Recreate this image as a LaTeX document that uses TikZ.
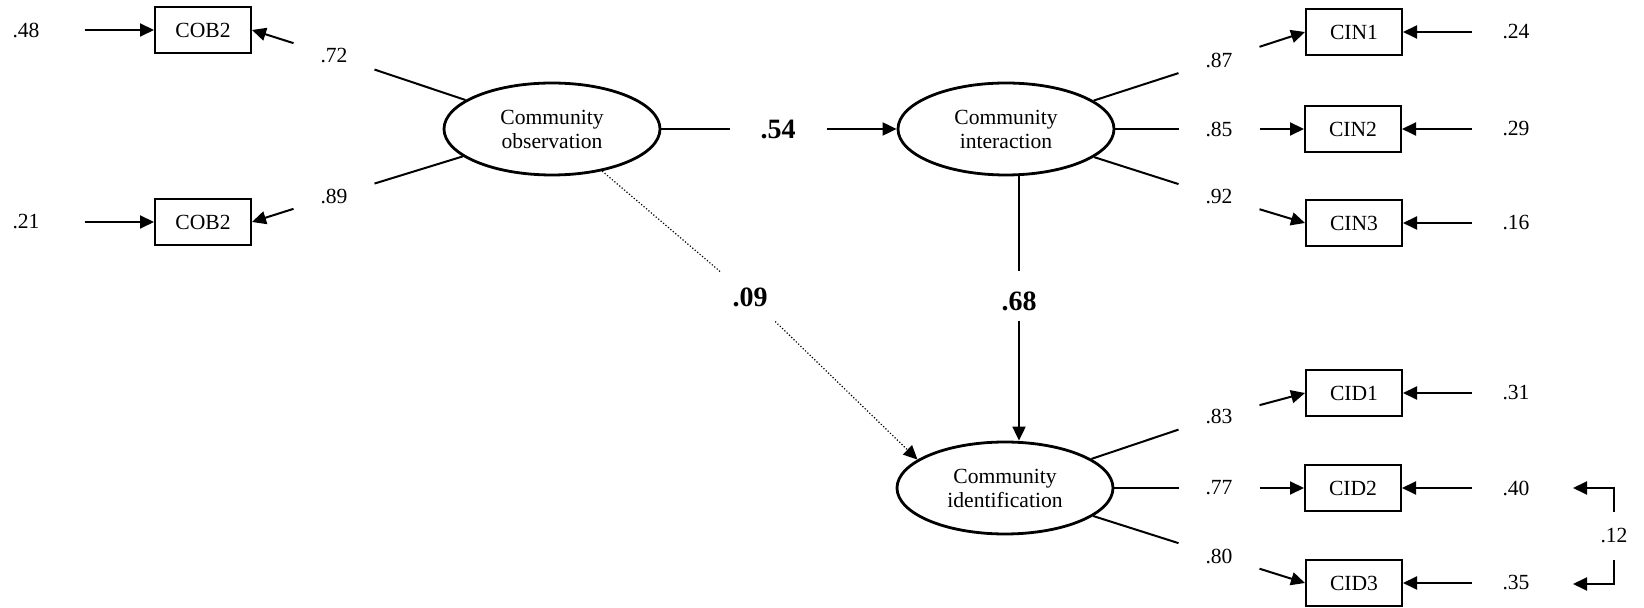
\documentclass[tikz,border=0pt]{standalone}
\usepackage{fontspec}
\setmainfont{Liberation Serif}
\usetikzlibrary{arrows.meta,shapes.geometric}

\begin{document}
\begin{tikzpicture}[
    x=0.5pt, y=-0.5pt, line width=1pt,
    >={Triangle[length=7pt,width=6.5pt]},
    every node/.style={font=\fontsize{10.8}{12}\selectfont, align=center},
    latent/.style={draw, ellipse, line width=1.4pt, minimum width=108pt, minimum height=46pt, inner sep=0pt},
    item/.style={draw, minimum width=48pt, minimum height=23pt, inner sep=0pt},
    load/.style={inner xsep=13pt, inner ysep=3pt},
    coef/.style={font=\fontsize{14}{16}\selectfont\bfseries, inner xsep=15pt, inner ysep=7pt},
    resid/.style={inner xsep=15pt, inner ysep=3pt}
]
\useasboundingbox (0,0) rectangle (1644,608);

% latent variables
\node[latent] (CO)  at (552,129)  {Community\\observation};
\node[latent] (CI)  at (1006,129) {Community\\interaction};
\node[latent] (CID) at (1005,488) {Community\\identification};

% indicators
\node[item] (COB2a) at (203,30)   {COB2};
\node[item] (COB2b) at (203,222)  {COB2};
\node[item] (CIN1)  at (1354,32)  {CIN1};
\node[item] (CIN2)  at (1353,129) {CIN2};
\node[item] (CIN3)  at (1354,223) {CIN3};
\node[item] (CID1)  at (1354,393) {CID1};
\node[item] (CID2)  at (1353,488) {CID2};
\node[item] (CID3)  at (1354,583) {CID3};

% loadings
\node[load] (l72) at (334,56)   {.72};
\node[load] (l89) at (334,196)  {.89};
\node[load] (l87) at (1219,60)  {.87};
\node[load] (l85) at (1219,129) {.85};
\node[load] (l92) at (1219,197) {.92};
\node[load] (l83) at (1219,416) {.83};
\node[load] (l77) at (1219,488) {.77};
\node[load] (l80) at (1219,556) {.80};

% structural paths
\node[coef] (l54) at (778,129)  {.54};
\node[coef, text height=15pt, inner ysep=4.2pt] (l68) at (1019,296) {.68};
\node[coef] (l09) at (750,297)  {.09};

% residuals
\node[resid, inner xsep=22pt] (e48) at (26,30)  {.48};
\node[resid, inner xsep=22pt] (e21) at (26,222) {.21};
\node[resid] (e24) at (1516,32)  {.24};
\node[resid] (e29) at (1516,129) {.29};
\node[resid] (e16) at (1516,223) {.16};
\node[resid] (e31) at (1516,393) {.31};
\node[resid] (e40) at (1516,488) {.40};
\node[resid] (e35) at (1516,583) {.35};
\node[inner ysep=8pt] (l12) at (1614,536) {.12};
\coordinate (c40) at (1573,488);
\coordinate (c35) at (1573,584);

\draw (CO) -- (l72); \draw[->] (l72) -- (COB2a.east);
\draw (CO) -- (l89); \draw[->] (l89) -- (COB2b.east);
\draw[->] (e48) -- (COB2a);
\draw[->] (e21) -- (COB2b);

\draw (CI) -- (l87); \draw[->] (l87) -- (CIN1.west);
\draw (CI) -- (l85); \draw[->] (l85) -- (CIN2.west);
\draw (CI) -- (l92); \draw[->] (l92) -- (CIN3.west);
\draw[->] (e24) -- (CIN1);
\draw[->] (e29) -- (CIN2);
\draw[->] (e16) -- (CIN3);

\draw (CID) -- (l83); \draw[->] (l83) -- (CID1.west);
\draw (CID) -- (l77); \draw[->] (l77) -- (CID2.west);
\draw (CID) -- (l80); \draw[->] (l80) -- (CID3.west);
\draw[->] (e31) -- (CID1);
\draw[->] (e40) -- (CID2);
\draw[->] (e35) -- (CID3);
\draw[->] (l12) |- (c40);
\draw[->] (l12) |- (c35);

\draw (CO) -- (l54); \draw[->] (l54) -- (CI);
\draw (CI.south -| l68) -- (l68); \draw[->] (l68) -- (CID.north -| l68);
\draw[densely dotted, line width=0.6pt] (CO.-40) -- (l09);
\draw[densely dotted, line width=0.6pt, ->] (l09) -- (CID.162);
\end{tikzpicture}
\end{document}
